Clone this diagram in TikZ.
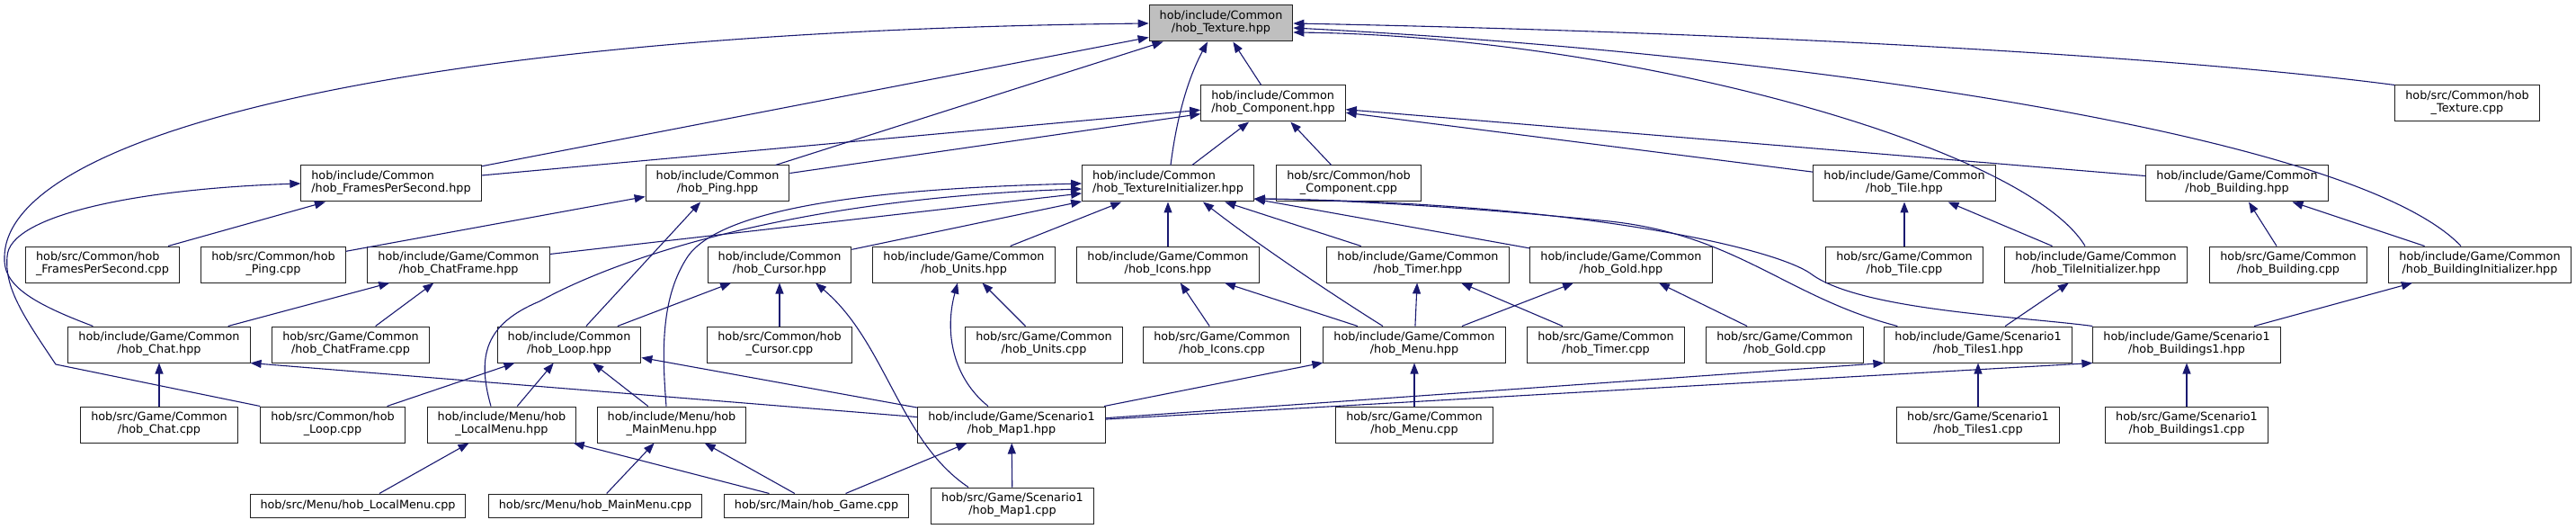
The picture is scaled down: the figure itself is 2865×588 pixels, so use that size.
\documentclass[tikz,border=0pt]{standalone}
\usepackage{fontspec}
\setmainfont{DejaVu Sans}
\usepackage{xcolor}
\usepackage{tikz}
\usetikzlibrary{positioning,arrows.meta}
\definecolor{edgeblue}{HTML}{191970}
\definecolor{rootfill}{HTML}{BFBFBF}
\definecolor{boxline}{HTML}{202020}
\newcommand{\fname}[2]{\begin{tabular}{@{}l@{}}\detokenize{#1}\\\multicolumn{1}{@{}c@{}}{\detokenize{#2}}\end{tabular}}
\newcommand{\fone}[1]{\detokenize{#1}}

\begin{document}
\begin{tikzpicture}[
  x=1pt,y=-1pt,
  font=\fontsize{12.8}{14}\selectfont,
  box/.style={draw=boxline,fill=white,line width=1pt,inner xsep=11.5pt,inner ysep=0pt,minimum height=40pt},
  rootbox/.style={box,fill=rootfill},
  onebox/.style={box,minimum height=26pt},
  dep/.style={-{Triangle[length=12pt,width=9pt]},color=edgeblue,line width=1.1pt}]
  \useasboundingbox (0,0) rectangle (2865,588);
  % header and its direct users
  \node[rootbox] (tex) at (1358,26) {\fname{hob/include/Common}{/hob_Texture.hpp}};
  \node[box] (comp) at (1416,115) {\fname{hob/include/Common}{/hob_Component.hpp}};
  \node[box] (texcpp) at (2744,115) {\fname{hob/src/Common/hob}{_Texture.cpp}};
  \node[box] (fpsh) at (435,204) {\fname{hob/include/Common}{/hob_FramesPerSecond.hpp}};
  \node[box] (pingh) at (798,204) {\fname{hob/include/Common}{/hob_Ping.hpp}};
  \node[box] (texinit) at (1299,204) {\fname{hob/include/Common}{/hob_TextureInitializer.hpp}};
  \node[box] (compcpp) at (1500,204) {\fname{hob/src/Common/hob}{_Component.cpp}};
  \node[box] (tileh) at (2118,204) {\fname{hob/include/Game/Common}{/hob_Tile.hpp}};
  \node[box] (buildh) at (2488,204) {\fname{hob/include/Game/Common}{/hob_Building.hpp}};
  % third row
  \node[box] (fpscpp) at (114,294) {\fname{hob/src/Common/hob}{_FramesPerSecond.cpp}};
  \node[box] (pingcpp) at (304,294) {\fname{hob/src/Common/hob}{_Ping.cpp}};
  \node[box] (chatframeh) at (510,294) {\fname{hob/include/Game/Common}{/hob_ChatFrame.hpp}};
  \node[box] (cursorh) at (867,294) {\fname{hob/include/Common}{/hob_Cursor.hpp}};
  \node[box] (unitsh) at (1072,294) {\fname{hob/include/Game/Common}{/hob_Units.hpp}};
  \node[box] (iconsh) at (1299,294) {\fname{hob/include/Game/Common}{/hob_Icons.hpp}};
  \node[box] (timerh) at (1577,294) {\fname{hob/include/Game/Common}{/hob_Timer.hpp}};
  \node[box] (goldh) at (1803,294) {\fname{hob/include/Game/Common}{/hob_Gold.hpp}};
  \node[box] (tilecpp) at (2118,294) {\fname{hob/src/Game/Common}{/hob_Tile.cpp}};
  \node[box] (tileinit) at (2331,294) {\fname{hob/include/Game/Common}{/hob_TileInitializer.hpp}};
  \node[box] (buildcpp) at (2545,294) {\fname{hob/src/Game/Common}{/hob_Building.cpp}};
  \node[box] (buildinit) at (2758,294) {\fname{hob/include/Game/Common}{/hob_BuildingInitializer.hpp}};
  % fourth row
  \node[box] (chath) at (177,383) {\fname{hob/include/Game/Common}{/hob_Chat.hpp}};
  \node[box] (chatframecpp) at (390,383) {\fname{hob/src/Game/Common}{/hob_ChatFrame.cpp}};
  \node[box] (looph) at (633,383) {\fname{hob/include/Common}{/hob_Loop.hpp}};
  \node[box] (cursorcpp) at (867,383) {\fname{hob/src/Common/hob}{_Cursor.cpp}};
  \node[box] (unitscpp) at (1161,383) {\fname{hob/src/Game/Common}{/hob_Units.cpp}};
  \node[box] (iconscpp) at (1359,383) {\fname{hob/src/Game/Common}{/hob_Icons.cpp}};
  \node[box] (menuh) at (1573,383) {\fname{hob/include/Game/Common}{/hob_Menu.hpp}};
  \node[box] (timercpp) at (1786,383) {\fname{hob/src/Game/Common}{/hob_Timer.cpp}};
  \node[box] (goldcpp) at (1985,383) {\fname{hob/src/Game/Common}{/hob_Gold.cpp}};
  \node[box] (tiles1h) at (2200,383) {\fname{hob/include/Game/Scenario1}{/hob_Tiles1.hpp}};
  \node[box] (builds1h) at (2432,383) {\fname{hob/include/Game/Scenario1}{/hob_Buildings1.hpp}};
  % fifth row
  \node[box] (chatcpp) at (177,472) {\fname{hob/src/Game/Common}{/hob_Chat.cpp}};
  \node[box] (loopcpp) at (370,472) {\fname{hob/src/Common/hob}{_Loop.cpp}};
  \node[box] (localmenuh) at (558,472) {\fname{hob/include/Menu/hob}{_LocalMenu.hpp}};
  \node[box] (mainmenuh) at (747,472) {\fname{hob/include/Menu/hob}{_MainMenu.hpp}};
  \node[box] (map1h) at (1125,472) {\fname{hob/include/Game/Scenario1}{/hob_Map1.hpp}};
  \node[box] (menucpp) at (1573,472) {\fname{hob/src/Game/Common}{/hob_Menu.cpp}};
  \node[box] (tiles1cpp) at (2200,472) {\fname{hob/src/Game/Scenario1}{/hob_Tiles1.cpp}};
  \node[box] (builds1cpp) at (2432,472) {\fname{hob/src/Game/Scenario1}{/hob_Buildings1.cpp}};
  % bottom row
  \node[onebox] (localmenucpp) at (398,562) {\fone{hob/src/Menu/hob_LocalMenu.cpp}};
  \node[onebox] (mainmenucpp) at (662,562) {\fone{hob/src/Menu/hob_MainMenu.cpp}};
  \node[onebox] (gamecpp) at (908,562) {\fone{hob/src/Main/hob_Game.cpp}};
  \node[box] (map1cpp) at (1126,562) {\fname{hob/src/Game/Scenario1}{/hob_Map1.cpp}};
  % into hob_Texture.hpp
  \draw[dep] (fpsh) -- (tex); \draw[dep] (pingh) -- (tex); \draw[dep] (comp) -- (tex);
  \draw[dep] ([xshift=3pt]texinit.north) .. controls (1310,120) and (1325,80) .. ([xshift=-15pt]tex.south);
  \draw[dep] ([xshift=28pt]chath.north west) .. controls (30,335) and (3,315) .. (5,285) .. controls (8,150) and (450,35) .. (tex.west);
  \draw[dep] (texcpp.north west) .. controls (2400,60) and (1900,35) .. (tex.east);
  \draw[dep] ([xshift=-21pt]buildinit.north) .. controls (2620,150) and (2000,60) .. ([yshift=-5pt]tex.east);
  \draw[dep] ([xshift=-12pt]tileinit.north) .. controls (2250,160) and (1800,40) .. ([yshift=-10pt]tex.east);
  % into hob_Component.hpp
  \draw[dep] (fpsh) -- (comp); \draw[dep] (pingh) -- (comp); \draw[dep] (texinit) -- (comp);
  \draw[dep] (compcpp) -- (comp); \draw[dep] (tileh) -- (comp); \draw[dep] (buildh) -- (comp);
  % into hob_FramesPerSecond.hpp and hob_Ping.hpp
  \draw[dep] (fpscpp) -- (fpsh);
  \draw[dep] (loopcpp.north west) -- (62,405) .. controls (25,350) and (5,320) .. (8,285) .. controls (10,240) and (150,210) .. (fpsh.west);
  \draw[dep] (pingcpp) -- (pingh); \draw[dep] (looph) -- (pingh);
  % into hob_TextureInitializer.hpp
  \draw[dep] (chatframeh) -- (texinit); \draw[dep] (cursorh) -- (texinit); \draw[dep] (unitsh) -- (texinit);
  \draw[dep] (iconsh) -- (texinit); \draw[dep] (timerh) -- (texinit); \draw[dep] (goldh) -- (texinit);
  \draw[dep] ([xshift=-35pt]menuh.north) .. controls (1470,320) and (1390,265) .. ([xshift=39pt]texinit.south);
  \draw[dep] ([xshift=-12pt]localmenuh.north) .. controls (530,395) and (540,360) .. (600,335) .. controls (700,280) and (900,220) .. ([yshift=-6pt]texinit.west);
  \draw[dep] ([xshift=-6pt]mainmenuh.north) .. controls (736,390) and (735,330) .. (765,285) .. controls (800,235) and (950,210) .. (texinit.west);
  \draw[dep] ([xshift=15pt]tiles1h.north west) .. controls (1985,330) and (1930,258) .. (1780,245) .. controls (1650,232) and (1500,222) .. ([yshift=-17pt]texinit.east);
  \draw[dep] (builds1h.north west) .. controls (2250,352) and (2070,345) .. (2015,305) .. controls (1975,275) and (1750,225) .. ([yshift=-17pt]texinit.east);
  % game headers
  \draw[dep] (tilecpp) -- (tileh); \draw[dep] (tileinit) -- (tileh);
  \draw[dep] (buildcpp) -- (buildh); \draw[dep] (buildinit) -- (buildh);
  \draw[dep] (chath) -- (chatframeh); \draw[dep] (chatframecpp) -- (chatframeh);
  \draw[dep] (looph) -- (cursorh); \draw[dep] (cursorcpp) -- (cursorh);
  \draw[dep] ([xshift=-49pt]map1cpp.north) .. controls (1000,490) and (985,380) .. ([xshift=40pt]cursorh.south);
  \draw[dep] ([xshift=-26pt]map1h.north) .. controls (1060,420) and (1050,370) .. ([xshift=-7pt]unitsh.south);
  \draw[dep] (unitscpp) -- (unitsh); \draw[dep] (iconscpp) -- (iconsh); \draw[dep] (menuh) -- (iconsh);
  \draw[dep] (menuh) -- (timerh); \draw[dep] (timercpp) -- (timerh);
  \draw[dep] (menuh) -- (goldh); \draw[dep] (goldcpp) -- (goldh);
  \draw[dep] (tiles1h) -- (tileinit); \draw[dep] (builds1h) -- (buildinit);
  % lower rows
  \draw[dep] (chatcpp) -- (chath); \draw[dep] (map1h) -- (chath.south east);
  \draw[dep] (loopcpp) -- (looph); \draw[dep] (localmenuh) -- (looph); \draw[dep] (mainmenuh) -- (looph); \draw[dep] (map1h) -- (looph);
  \draw[dep] (map1h) -- (menuh); \draw[dep] (menucpp) -- (menuh);
  \draw[dep] (map1h) -- (tiles1h.south west); \draw[dep] (map1h) -- (builds1h.south west);
  \draw[dep] (tiles1cpp) -- (tiles1h); \draw[dep] (builds1cpp) -- (builds1h);
  \draw[dep] (localmenucpp) -- (localmenuh); \draw[dep] (mainmenucpp) -- (mainmenuh);
  \draw[dep] (gamecpp) -- (localmenuh); \draw[dep] (gamecpp) -- (mainmenuh); \draw[dep] (gamecpp) -- (map1h);
  \draw[dep] (map1cpp) -- (map1h);
\end{tikzpicture}
\end{document}
